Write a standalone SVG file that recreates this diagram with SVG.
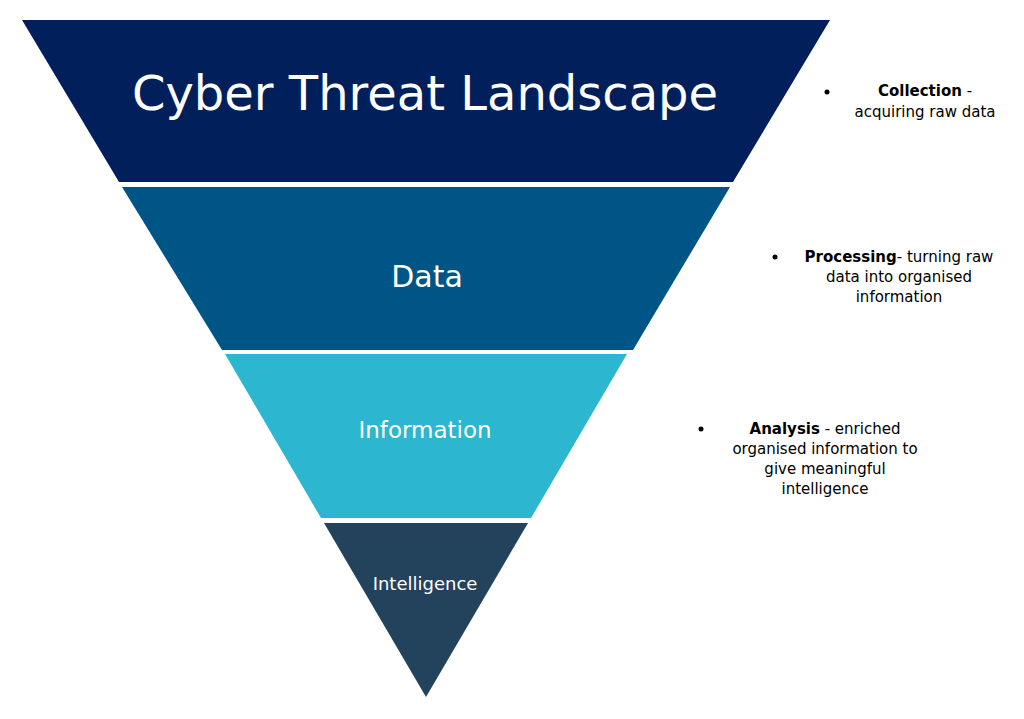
<svg xmlns="http://www.w3.org/2000/svg" width="1024" height="719" viewBox="0 0 1024 719">
<style>
.t{font-family:"DejaVu Sans",Verdana,sans-serif;fill:#fff;text-anchor:middle}
.n{font-family:"DejaVu Sans",Verdana,sans-serif;font-size:15px;fill:#000;text-anchor:middle}
.b{font-weight:bold}
</style>
<rect width="1024" height="719" fill="#fff"/>
<g id="landscape"><polygon points="22,20 830,20 733,182 119,182" fill="#001f5b"/><text class="t" x="425" y="110" font-size="48">Cyber Threat Landscape</text></g>
<g id="data"><polygon points="122,187 730,187 633,350 222,350" fill="#005587"/><text class="t" x="427" y="287" font-size="30">Data</text></g>
<g id="information"><polygon points="225,354 627,354 531,518 321,518" fill="#2cb6cf"/><text class="t" x="425" y="438" font-size="23">Information</text></g>
<g id="intelligence"><polygon points="324,523 528,523 426,697" fill="#23435c"/><text class="t" x="425" y="590" font-size="18">Intelligence</text></g>
<g id="connectors"></g>
<g id="collection"><circle cx="827" cy="92" r="2.5"/><text class="n" x="925" y="96"><tspan class="b">Collection</tspan> -</text><text class="n" x="925" y="117">acquiring raw data</text></g>
<g id="processing"><circle cx="775" cy="257" r="2.5"/><text class="n" x="899" y="262"><tspan class="b">Processing</tspan>- turning raw</text><text class="n" x="899" y="282">data into organised</text><text class="n" x="899" y="302">information</text></g>
<g id="analysis"><circle cx="701" cy="429" r="2.5"/><text class="n" x="825" y="434"><tspan class="b">Analysis</tspan> - enriched</text><text class="n" x="825" y="454">organised information to</text><text class="n" x="825" y="474">give meaningful</text><text class="n" x="825" y="494">intelligence</text></g>
</svg>
